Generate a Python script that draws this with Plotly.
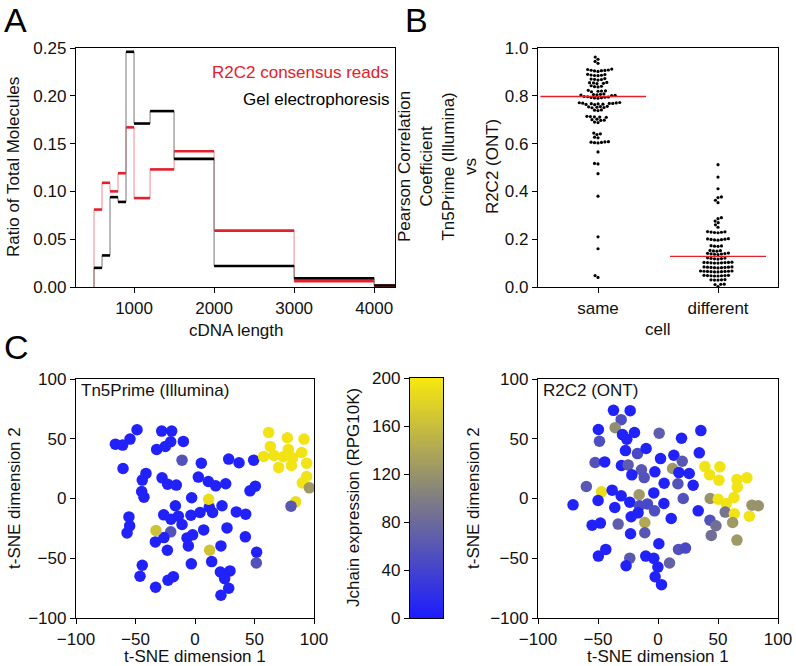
import numpy as np
import plotly.graph_objects as go

# ---------------- Data ----------------
# Panel A: histogram-style steps
bin_edges = [500, 600, 700, 800, 900, 1000, 1200, 1500, 2000, 3000, 4000, 5000]
r2c2_ratio = [0.081, 0.109, 0.100, 0.119, 0.167, 0.093, 0.123, 0.142, 0.059, 0.006, 0.0015]
gel_ratio = [0.020, 0.033, 0.094, 0.089, 0.246, 0.171, 0.184, 0.134, 0.022, 0.009, 0.0015]

# Panel B: Pearson correlation values
same_vals = [
    0.962, 0.953, 0.944, 0.936,
    0.912, 0.910, 0.908, 0.907, 0.906, 0.905, 0.904, 0.902,
    0.890, 0.889, 0.887, 0.886, 0.885, 0.884,
    0.872, 0.870, 0.869, 0.868, 0.866,
    0.856, 0.855, 0.854, 0.852, 0.851,
    0.842, 0.840, 0.838, 0.837,
    0.823, 0.821, 0.820, 0.819, 0.817,
    0.808, 0.806, 0.805, 0.804, 0.803, 0.802, 0.801,
    0.797, 0.796, 0.795, 0.794, 0.793, 0.792, 0.791, 0.790,
    0.772, 0.771, 0.770, 0.769, 0.768, 0.768, 0.767, 0.766, 0.765, 0.764, 0.763,
    0.756, 0.755, 0.754, 0.752, 0.751, 0.750,
    0.741, 0.740, 0.738,
    0.714, 0.713, 0.712, 0.711, 0.710,
    0.702, 0.700, 0.698, 0.697,
    0.690, 0.688,
    0.644, 0.641, 0.638,
    0.627, 0.624,
    0.608, 0.607, 0.606, 0.605, 0.604, 0.603,
    0.565,
    0.517, 0.515,
    0.474,
    0.380,
    0.210,
    0.160,
    0.048, 0.040,
]
different_vals = [
    0.512, 0.460, 0.411, 0.377, 0.374, 0.363, 0.353,
    0.290, 0.286, 0.276, 0.269, 0.260, 0.250,
    0.232, 0.231, 0.230, 0.229, 0.228, 0.227,
    0.202, 0.201, 0.200, 0.199, 0.198, 0.197, 0.196,
    0.173, 0.172, 0.171, 0.170,
    0.153, 0.152, 0.151, 0.150,
    0.142, 0.141, 0.140, 0.139, 0.138, 0.137, 0.136,
    0.122, 0.121, 0.120, 0.119, 0.118, 0.117,
    0.104, 0.103, 0.103, 0.102, 0.102, 0.101, 0.101, 0.100, 0.100,
    0.084, 0.084, 0.083, 0.083, 0.082, 0.082, 0.081, 0.081, 0.080,
    0.067, 0.067, 0.066, 0.066, 0.065, 0.065, 0.064, 0.064, 0.063, 0.063,
    0.049, 0.049, 0.048, 0.048, 0.047, 0.047, 0.046, 0.046,
    0.031, 0.030, 0.030, 0.029, 0.029,
    0.012, 0.011, 0.010,
    0.002,
]
cell_categories = ["same", "different"]
median_same = 0.797
median_different = 0.128

# Panel C left: Tn5Prime (Illumina) t-SNE
tn5_x = [-48.7, -66.9, -60.8, -54.6, -28.0, -19.6, -20.4, -24.9, -32.2, -9.8,
         -10.9, -60.5, 5.3, 28.3, 37.0, 49.3, -41.2, -44.3, -27.7, -23.0,
         -15.7, 2.8, 11.2, 17.4, 25.8, -44.8, -42.9, -2.8, 46.2, 50.7,
         -16.5, 12.0, 22.7, -55.5, -54.9, -57.1, -26.3, -20.2, -14.0, -10.9,
         -3.4, 4.2, 14.8, 34.7, 42.6, -20.4, -26.1, -33.3, -6.7, -2.0,
         7.3, 26.9, -5.6, 42.3, -23.2, 21.8, 51.8, 51.5, -44.3, -46.2,
         -3.1, 14.0, 21.3, 29.4, 24.9, -22.7, -18.2, -33.1, 28.3, 21.8,
         61.9, 77.6, 91.6, 63.3, 78.4, 89.6, 57.7, 66.4, 74.2, 82.1,
         93.8, 70.3, 81.0, 93.8, 90.2, 96.1, 84.6, 11.5, -32.8, 12.3, 80.7]
tn5_y = [57.5, 45.5, 44.7, 49.7, 56.4, 56.4, 47.5, 43.6, 41.1, 47.8,
         32.1, 25.1, 29.6, 33.0, 29.9, 32.1, 21.0, 15.4, 17.3, 12.0,
         11.2, 17.9, 14.2, 10.6, 12.3, 5.9, 1.1, 0.6, 6.4, 10.3,
         -6.1, -7.3, -6.1, -15.4, -22.9, -28.8, -13.7, -17.3, -14.8, -21.8,
         -14.0, -11.7, -11.7, -11.2, -13.1, -27.9, -32.7, -36.3, -33.0, -30.4,
         -26.3, -24.6, -39.7, -32.1, -43.3, -39.7, -45.0, -53.9, -55.9, -65.1,
         -54.7, -52.8, -61.5, -60.6, -67.0, -68.4, -65.4, -74.3, -75.1, -81.0,
         55.3, 50.8, 49.7, 43.6, 41.1, 38.5, 35.2, 36.0, 34.9, 34.1,
         29.6, 26.0, 27.7, 18.4, 13.1, 8.9, -2.8, -0.6, -26.8, -43.3, -6.4]
tn5_jchain = [5, 5, 5, 5, 5, 5, 5, 5, 5, 5,
              55, 5, 5, 5, 5, 5, 5, 5, 5, 5,
              5, 5, 5, 5, 5, 5, 5, 5, 5, 5,
              5, 5, 5, 5, 5, 5, 5, 5, 5, 5,
              5, 5, 5, 5, 5, 55, 5, 5, 5, 5,
              5, 5, 5, 5, 5, 5, 5, 55, 5, 5,
              5, 5, 5, 5, 5, 5, 5, 5, 5, 5,
              195, 195, 195, 195, 195, 195, 195, 195, 195, 195,
              195, 195, 195, 195, 195, 125, 190, 190, 165, 165, 60]

# Panel C right: R2C2 (ONT) t-SNE
r2c2_x = [-37.1, -23.2, -30.7, -35.7, -49.7, -19.6, -29.6, -26.0, -48.8, 1.0,
          19.6, 35.7, -27.1, -17.1, -9.9, -52.4, -44.4, -30.5, -24.9, -13.8,
          -11.5, -21.8, -2.6, 2.1, 13.2, 20.2, 12.1, 17.4, 26.0, 34.4,
          39.1, 51.6, 43.0, 50.8, 65.8, 74.1, 66.1, -59.7, -47.1, -38.2,
          -30.7, -15.7, -3.5, 5.1, 16.6, 29.3, -49.9, -70.8, -36.0, -23.5,
          -15.4, -8.8, 4.9, -2.9, -16.6, 21.0, 43.5, 50.2, 56.9, 63.3,
          56.0, 63.6, 78.3, 83.6, 76.1, 33.5, 43.3, 48.3, 62.2, -22.4,
          -54.9, -48.0, -33.2, -11.0, 11.0, -22.9, -11.0, 44.4, 65.8, 0.7,
          -43.5, -49.7, -23.5, -26.6, -10.2, -3.5, 9.6, 17.1, 22.9, -0.1,
          -2.4, 2.9]
r2c2_y = [73.8, 73.5, 66.0, 59.3, 57.7, 55.2, 53.5, 49.6, 47.9, 54.6,
          50.4, 56.8, 40.1, 37.6, 41.8, 30.1, 30.6, 27.6, 28.1, 24.0,
          17.5, 19.8, 22.3, 33.4, 36.2, 31.2, 25.1, 21.7, 20.9, 38.2,
          26.7, 26.5, 19.8, 15.3, 15.9, 17.3, 9.5, 10.0, 5.6, 7.0,
          2.2, 3.1, 4.7, 12.8, 12.3, 11.1, -1.7, -5.3, -7.5, -3.1,
          -6.1, -4.5, -4.2, -10.3, -12.0, 0.0, 0.0, -0.6, -4.2, 0.8,
          -11.4, -12.8, -5.6, -6.1, -14.8, -10.3, -18.1, -22.8, -20.1, -15.3,
          -22.3, -20.6, -21.4, -20.1, -16.7, -29.5, -28.7, -30.9, -34.8, -37.9,
          -42.6, -48.2, -49.9, -56.3, -48.2, -50.1, -54.0, -42.6, -41.5, -57.4,
          -65.5, -72.1]
r2c2_jchain = [5, 5, 50, 115, 5, 5, 5, 5, 50, 65,
               5, 5, 5, 45, 5, 55, 5, 5, 65, 60,
               55, 5, 5, 5, 5, 60, 125, 5, 5, 5,
               195, 195, 195, 195, 195, 195, 195, 60, 190, 5,
               5, 125, 5, 5, 55, 5, 5, 5, 5, 5,
               45, 45, 5, 50, 5, 55, 120, 195, 195, 195,
               90, 195, 120, 120, 195, 5, 55, 85, 125, 5,
               5, 5, 65, 140, 5, 5, 60, 85, 125, 5,
               5, 5, 60, 5, 5, 5, 70, 55, 45, 5,
               5, 5]

colorbar_ticks = [0, 40, 80, 120, 160, 200]

# ---------------- Helpers ----------------
FONT = "Liberation Sans, Arial, Helvetica, sans-serif"
FS = 17
RED = "#e3202b"
W, H = 796, 666


def px_x(p):
    return p / W


def px_y(p):
    return 1 - p / H


def swarm_offsets(vals, px_per_unit_y, px_per_unit_x, d):
    order = np.argsort(vals)
    placed = []
    out = np.zeros(len(vals))
    for i in order:
        y = vals[i] * px_per_unit_y
        near = [(px, py) for px, py in placed if abs(py - y) < d]
        cands = [0.0]
        for px, py in near:
            dx = np.sqrt(max(d * d - (py - y) ** 2, 0))
            cands += [px + dx, px - dx]
        cands.sort(key=lambda c: (abs(c), c))
        chosen = 0.0
        for c in cands:
            if all((c - px) ** 2 + (y - py) ** 2 >= d * d - 1e-6 for px, py in near):
                chosen = c
                break
        placed.append((chosen, y))
        out[i] = chosen / px_per_unit_x
    return out


fig = go.Figure()

# ---------------- Panel A ----------------
for vals, col, thin_col in [(r2c2_ratio, RED, "#f08a90"), (gel_ratio, "black", "#777777")]:
    sx, sy = [bin_edges[0]], [0]
    hx, hy = [], []
    for i, v in enumerate(vals):
        sx += [bin_edges[i], bin_edges[i + 1]]
        sy += [v, v]
        hx += [bin_edges[i], bin_edges[i + 1], None]
        hy += [v, v, None]
    fig.add_trace(go.Scatter(x=sx, y=sy, mode="lines", line=dict(color=thin_col, width=1),
                             xaxis="x", yaxis="y", showlegend=False, hoverinfo="skip"))
    fig.add_trace(go.Scatter(x=hx, y=hy, mode="lines", line=dict(color=col, width=2.6),
                             xaxis="x", yaxis="y", showlegend=False))

# ---------------- Panel B ----------------
PX_Y_B = 239.0
PX_X_B = 120.0
for k, vals in enumerate([same_vals, different_vals]):
    v = np.array(vals)
    off = swarm_offsets(v, PX_Y_B, PX_X_B, 3.5)
    fig.add_trace(go.Scatter(x=k + off, y=v, mode="markers",
                             marker=dict(color="black", size=3.2),
                             xaxis="x2", yaxis="y2", showlegend=False))
fig.add_trace(go.Scatter(x=[-0.48, 0.40, None, 0.60, 1.40],
                         y=[median_same, median_same, None, median_different, median_different],
                         mode="lines", line=dict(color=RED, width=1.4),
                         xaxis="x2", yaxis="y2", showlegend=False))

# ---------------- Panel C ----------------
fig.add_trace(go.Scatter(x=tn5_x, y=tn5_y, mode="markers",
                         marker=dict(color=tn5_jchain, coloraxis="coloraxis", size=11.5,
                                     line=dict(width=0)),
                         xaxis="x3", yaxis="y3", showlegend=False))
fig.add_trace(go.Scatter(x=r2c2_x, y=r2c2_y, mode="markers",
                         marker=dict(color=r2c2_jchain, coloraxis="coloraxis", size=11.5,
                                     line=dict(width=0)),
                         xaxis="x5", yaxis="y5", showlegend=False))

# colorbar ramp drawn as a heatmap on its own axis
levels = np.linspace(0, 200, 201)
fig.add_trace(go.Heatmap(z=[[l] for l in levels], x=[0], y=levels, coloraxis="coloraxis",
                         xaxis="x4", yaxis="y4", showscale=False, hoverinfo="skip"))

axis_common = dict(showline=True, mirror=True, linecolor="black", linewidth=1.3,
                   ticks="outside", ticklen=5, tickwidth=1.2, tickcolor="black",
                   showgrid=False, zeroline=False, automargin=False,
                   tickfont=dict(family=FONT, size=FS, color="#111111"))

tsne_ticks = [-100, -50, 0, 50, 100]

fig.update_layout(
    width=W, height=H, margin=dict(l=0, r=0, t=0, b=0, autoexpand=False),
    paper_bgcolor="white", plot_bgcolor="white",
    font=dict(family=FONT, size=FS, color="#111111"),
    coloraxis=dict(cmin=0, cmax=200, showscale=False,
                   colorscale=[[0, "rgb(28,28,255)"], [0.5, "rgb(128,126,130)"], [1, "rgb(248,232,14)"]]),
    xaxis=dict(axis_common, domain=[px_x(76), px_x(395)], range=[275, 4260],
               tickvals=[1000, 2000, 3000, 4000], anchor="y"),
    yaxis=dict(axis_common, domain=[px_y(287), px_y(48)], range=[0, 0.25],
               tickvals=[0, 0.05, 0.10, 0.15, 0.20, 0.25], tickformat=".2f", anchor="x"),
    xaxis2=dict(axis_common, domain=[px_x(538), px_x(778)], range=[-0.5, 1.5],
                tickvals=[0, 1], ticktext=cell_categories, anchor="y2"),
    yaxis2=dict(axis_common, domain=[px_y(287), px_y(48)], range=[0, 1.0],
                tickvals=[0, 0.2, 0.4, 0.6, 0.8, 1.0], tickformat=".1f", anchor="x2"),
    xaxis3=dict(axis_common, domain=[px_x(76), px_x(314)], range=[-100, 100],
                tickvals=tsne_ticks, anchor="y3"),
    yaxis3=dict(axis_common, domain=[px_y(618), px_y(379)], range=[-100, 100],
                tickvals=tsne_ticks, anchor="x3"),
    xaxis4=dict(axis_common, domain=[px_x(410), px_x(443)], range=[-0.5, 0.5],
                ticks="", showticklabels=False, anchor="y4"),
    yaxis4=dict(axis_common, domain=[px_y(618), px_y(378)], range=[0, 200],
                tickvals=colorbar_ticks, anchor="x4"),
    xaxis5=dict(axis_common, domain=[px_x(538), px_x(778)], range=[-100, 100],
                tickvals=tsne_ticks, anchor="y5"),
    yaxis5=dict(axis_common, domain=[px_y(618), px_y(379)], range=[-100, 100],
                tickvals=tsne_ticks, anchor="x5"),
)


def ann(text, x, y, size=FS, color="#111111", angle=0, xanchor="center", yanchor="middle"):
    fig.add_annotation(text=text, x=px_x(x), y=px_y(y), xref="paper", yref="paper",
                       showarrow=False, textangle=angle, xanchor=xanchor, yanchor=yanchor,
                       font=dict(family=FONT, size=size, color=color))


# panel letters
ann("A", 2, 20, size=34, color="black", xanchor="left")
ann("B", 403, 20, size=34, color="black", xanchor="left")
ann("C", 2, 347, size=34, color="black", xanchor="left")

# Panel A texts
ann("Ratio of Total Molecules", 14, 167, angle=-90)
ann("cDNA length", 236, 331)
ann("R2C2 consensus reads", 391, 72, color=RED, xanchor="right")
ann("Gel electrophoresis", 391, 100, color="black", xanchor="right")

# Panel B texts
ann("Pearson Correlation<br>Coefficient<br>Tn5Prime (Illumina)<br>vs<br>R2C2 (ONT)",
    449, 167, angle=-90)
ann("cell", 658, 329)

# Panel C texts
ann("t-SNE dimension 2", 14, 498, angle=-90)
ann("t-SNE dimension 1", 195, 656)
ann("Tn5Prime (Illumina)", 79, 390, xanchor="left")
ann("Jchain expression (RPG10K)", 353, 498, angle=-90)
ann("t-SNE dimension 2", 473, 498, angle=-90)
ann("t-SNE dimension 1", 658, 656)
ann("R2C2 (ONT)", 541, 390, xanchor="left")

fig.write_html("out.html", config={"displayModeBar": False},
               post_script="document.body.style.margin='0';document.body.style.overflow='hidden';")
